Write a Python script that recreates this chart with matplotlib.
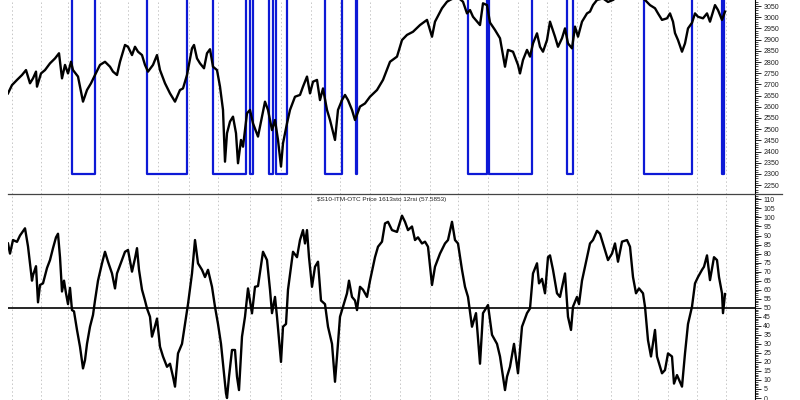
import numpy as np
from matplotlib import pyplot as plt
from matplotlib.ticker import MultipleLocator

plt.rcParams['font.family'] = ['Liberation Sans', 'DejaVu Sans']

# session index (chart x units) where each month starts
month_starts = [12, 41, 68, 100, 128, 158, 189, 218, 250, 281, 311, 340, 370,
                400, 430, 458, 488, 518, 547, 577, 611, 638, 668, 697, 726]

# price line
price_t = [8, 12, 17, 22, 26, 30, 33, 36, 37, 41, 45, 50, 55, 59, 62, 65, 68, 71, 73, 78,
           83, 87, 91, 95, 100, 105, 110, 113, 117, 120, 125, 128, 132, 135, 138, 142, 145, 148,
           153, 157, 160, 165, 170, 175, 180, 183, 187, 192, 194, 197, 200, 204, 207, 210, 213,
           217, 220, 223, 225, 227, 230, 233, 236, 238, 241, 243, 247, 250, 253, 258, 265, 268,
           272, 275, 278, 281, 283, 287, 290, 295, 300, 303, 307, 310, 313, 317, 320, 323, 327,
           330, 335, 338, 342, 345, 348, 352, 355, 360, 365, 370, 377, 383, 390, 397, 402, 407,
           413, 420, 427, 432, 435, 442, 447, 450, 457, 463, 467, 470, 473, 480, 483, 487, 490,
           495, 500, 505, 508, 513, 518, 520, 523, 527, 530, 533, 537, 540, 543, 547, 550, 555,
           558, 562, 565, 568, 572, 575, 578, 582, 587, 590, 593, 597, 603, 608, 613, 620, 630,
           640, 645, 650, 655, 658, 662, 667, 670, 673, 675, 678, 682, 685, 688, 692, 695, 698,
           703, 707, 710, 715, 718, 722, 725]
price = [2660, 2697, 2720, 2742, 2764, 2705, 2727, 2757, 2690, 2749, 2764, 2794, 2816, 2839,
         2727, 2787, 2749, 2801, 2764, 2735, 2623, 2675, 2705, 2742, 2787, 2801, 2779, 2757,
         2742, 2801, 2876, 2868, 2831, 2868, 2846, 2831, 2787, 2757, 2787, 2831, 2764, 2705,
         2660, 2623, 2675, 2682, 2742, 2861, 2876, 2816, 2794, 2772, 2839, 2857, 2779, 2764,
         2690, 2586, 2355, 2482, 2534, 2556, 2482, 2348, 2452, 2422, 2571, 2586, 2526, 2467,
         2623, 2586, 2496, 2541, 2452, 2333, 2437, 2526, 2586, 2645, 2653, 2690, 2735, 2660,
         2712, 2720, 2630, 2682, 2586, 2541, 2452, 2586, 2630, 2653, 2630, 2586, 2541, 2601,
         2615, 2645, 2675, 2720, 2801, 2824, 2898, 2921, 2935, 2965, 2988, 2913, 2980, 3040,
         3069, 3077, 3092, 3069, 3017, 3032, 3002, 2965, 3062, 3054, 2976, 2943, 2906, 2779,
         2854, 2846, 2787, 2749, 2809, 2854, 2824, 2883, 2928, 2868, 2846, 2898, 2980, 2913,
         2868, 2906, 2950, 2883, 2861, 2958, 2913, 2980, 3017, 3025, 3054, 3077, 3084, 3068,
         3077, 3100, 3110, 3095, 3077, 3054, 3040, 3017, 2988, 2995, 3017, 2980, 2929, 2898,
         2846, 2883, 2950, 2975, 3017, 3002, 2995, 3017, 2980, 3054, 3032, 2988, 3025]

# blue timing signal: 1 = up, 0 = down (down level sits at 2300)
signal_t = [8, 72, 95, 147, 187, 213, 246, 250, 253, 269, 273, 276, 287, 325, 342, 356, 357,
            468, 487, 489, 532, 567, 573, 644, 692, 722, 724, 726]
signal_on = [1, 0, 1, 0, 1, 0, 1, 0, 1, 0, 1, 0, 1, 0, 1, 0, 1, 0, 1, 0, 1, 0, 1, 0, 1, 0, 1, 1]
signal_low, signal_high = 2300, 3400

# 16/13 stochastic of the 12 period RSI
osc_t = [8, 10, 13, 17, 20, 25, 28, 32, 33, 36, 38, 40, 43, 47, 50, 53, 56, 58, 60, 62, 64,
         66, 68, 70, 72, 74, 77, 80, 83, 85, 87, 90, 93, 95, 98, 102, 105, 108, 112, 115, 117,
         122, 125, 128, 132, 135, 137, 139, 142, 145, 147, 150, 152, 154, 157, 160, 163, 167,
         170, 173, 175, 178, 182, 185, 188, 192, 195, 198, 202, 205, 208, 212, 215, 218, 221,
         223, 226, 227, 229, 232, 235, 237, 239, 242, 245, 248, 252, 255, 258, 263, 267, 270,
         272, 275, 277, 281, 283, 286, 288, 293, 297, 300, 303, 305, 307, 309, 312, 315, 318,
         321, 325, 328, 332, 335, 337, 340, 343, 347, 349, 352, 355, 357, 360, 363, 367, 370,
         375, 378, 382, 385, 388, 392, 397, 402, 405, 408, 412, 415, 418, 422, 425, 428, 432,
         435, 440, 445, 448, 452, 455, 458, 462, 465, 468, 472, 476, 480, 483, 488, 492, 497,
         500, 505, 507, 510, 514, 518, 522, 527, 530, 533, 537, 539, 542, 545, 548, 550, 553,
         557, 560, 565, 568, 571, 573, 577, 579, 582, 587, 590, 593, 597, 600, 603, 608, 612,
         615, 618, 622, 627, 630, 633, 636, 639, 643, 645, 648, 651, 655, 657, 662, 665, 668,
         672, 674, 677, 682, 685, 688, 692, 695, 698, 702, 704, 707, 710, 714, 717, 719, 722,
         723, 725]
osc = [85.6, 80, 87.5, 86.5, 90, 94, 84, 65, 68, 73, 53, 62.6, 63.5, 72, 76.4, 83, 89, 91, 78,
       59, 65, 58, 52, 61, 48.7, 48, 37.7, 28.4, 16.4, 21, 30, 39.5, 46, 54, 65, 74.6, 81, 75.5,
       69, 60.7, 69, 76.4, 81, 82, 70, 77.3, 83, 71, 60, 54, 49.6, 45, 34, 37.7, 44, 28.4, 23,
       17.3, 19, 11.8, 6.3, 24.7, 30, 41, 52, 69, 87.5, 74.6, 71, 67, 71, 61.6, 50.5, 41, 30,
       19, 2.6, 0, 11.8, 26.6, 26.6, 11.8, 4.4, 34, 45, 60.7, 46.9, 61.6, 62, 81, 76.4, 60,
       47, 56, 45, 20, 39.5, 41, 60, 81, 78, 87.5, 93, 85.6, 93, 78, 61.6, 72.7, 75.5, 54, 52,
       39.5, 30, 9, 23, 45, 50.6, 58, 65, 56, 54, 48.7, 61.6, 60, 56, 65, 78, 83.8, 86.6,
       96.7, 97.6, 93, 92, 101, 97.6, 93, 95, 87.5, 89, 85.6, 86.6, 83.8, 62.6, 72.7, 80,
       85.6, 87.5, 97.6, 87.5, 85.6, 71, 61.6, 56, 39.5, 47, 19, 47, 51.5, 35, 30, 23, 4.4,
       11.8, 17.3, 30, 13.7, 39.5, 47, 49.6, 69, 74.6, 63.5, 66, 58, 78, 79, 71, 58, 56, 69,
       45, 37.7, 50.6, 56, 52, 65, 78, 85.6, 87.5, 92.6, 91, 85.6, 76.4, 80, 85.6, 75.5, 86.6,
       87.5, 83.8, 67, 58, 60.7, 58, 50.6, 32, 23, 37.7, 23, 13.7, 15.5, 24.7, 23, 8, 12.7,
       6.3, 24.7, 41, 50.6, 63.5, 67, 71, 72.7, 79, 65.3, 78, 76.4, 67, 58, 47, 57.6]

osc_title = "$S10-ITM-OTC Price 1613sto 12rsi (57.5853)"

fig = plt.figure(figsize=(8, 4), dpi=100)
split = 206 / 400
ax1 = fig.add_axes([8 / 800, split, 747 / 800, 1 - split])
ax2 = fig.add_axes([8 / 800, 0, 747 / 800, split])

sig_level = np.where(np.array(signal_on) == 1, signal_high, signal_low)
ax1.plot(signal_t, sig_level, drawstyle='steps-post', color='#0d19d6', lw=1.6, zorder=2)
ax1.plot(price_t, price, color='black', lw=1.7, zorder=3)
ax1.set_ylim(2210.7, 3076.8)
ax1.yaxis.set_major_locator(MultipleLocator(50))
ax1.yaxis.set_minor_locator(MultipleLocator(10))

ax2.plot(osc_t, osc, color='black', lw=1.7, zorder=3)
ax2.axhline(50, color='black', lw=1.2, zorder=2)
ax2.set_ylim(-1.1, 113)
ax2.yaxis.set_major_locator(MultipleLocator(5))
ax2.yaxis.set_minor_locator(MultipleLocator(1))
ax2.text(0.5, 0.985, osc_title, transform=ax2.transAxes, ha='center', va='top',
         fontsize=4.6, color='#222222', parse_math=False)

for ax in (ax1, ax2):
    ax.set_xlim(8, 755)
    ax.set_xticks(month_starts)
    ax.grid(axis='x', color='#c6c6c6', ls=(0, (1.5, 2.5)), lw=0.7)
    ax.tick_params(axis='x', length=0, labelbottom=False)
    ax.yaxis.tick_right()
    ax.tick_params(axis='y', which='major', length=4, width=0.6, pad=2,
                   labelsize=5, labelcolor='#222222')
    ax.tick_params(axis='y', which='minor', length=2, width=0.5)
    for s in ('left', 'top', 'bottom'):
        ax.spines[s].set_visible(False)
    ax.spines['right'].set_linewidth(0.8)
    ax.set_facecolor('white')

# panel separator running into the label gutter
fig.add_artist(plt.Line2D([8 / 800, 782 / 800], [split, split], color='#444444', lw=0.9))

fig.savefig('out.png', dpi=100)
